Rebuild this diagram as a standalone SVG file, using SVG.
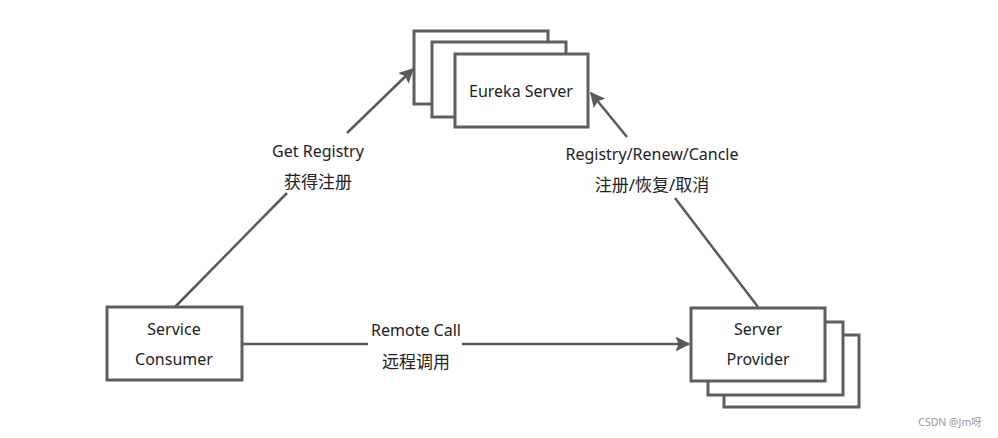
<svg xmlns="http://www.w3.org/2000/svg" width="998" height="438" viewBox="0 0 998 438">
<style>
.box{fill:#fff;stroke:#5f5f5f;stroke-width:3}
.ln{stroke:#5a5a5a;stroke-width:2.5;fill:none}
.t{font-family:"Noto Sans","Noto Sans CJK SC",sans-serif;font-size:16px;fill:#222;text-anchor:middle}
.c{font-size:17px}
.wm{font-family:"Noto Sans","Noto Sans CJK SC",sans-serif;font-size:10.5px;fill:#999;text-anchor:middle}
</style>
<defs>
<marker id="ah" viewBox="0 0 10 10" refX="9" refY="5" markerWidth="6" markerHeight="6" markerUnits="strokeWidth" orient="auto">
<path d="M0,0 L10,5 L0,10 L2,5 Z" fill="#5a5a5a"/>
</marker>
</defs>
<rect width="998" height="438" fill="#fff"/>
<g id="connectors">
<path class="ln" d="M175,307 L287,193"/>
<path class="ln" d="M347,133 L413,69" marker-end="url(#ah)"/>
<path class="ln" d="M758,307 L675,198"/>
<path class="ln" d="M627,137 L591,93" marker-end="url(#ah)"/>
<path class="ln" d="M242,344 L368,344"/>
<path class="ln" d="M462,344 L689,344" marker-end="url(#ah)"/>
<text class="t" x="318" y="157">Get Registry</text>
<text class="t c" x="318" y="188">获得注册</text>
<text class="t" x="652" y="160">Registry/Renew/Cancle</text>
<text class="t c" x="652" y="191">注册/恢复/取消</text>
<text class="t" x="416" y="336">Remote Call</text>
<text class="t c" x="416" y="368">远程调用</text>
</g>
<g id="eureka">
<rect class="box" x="414" y="31" width="134" height="73"/>
<rect class="box" x="432" y="42" width="134" height="75"/>
<rect class="box" x="455" y="54" width="133" height="73"/>
<text class="t" x="521" y="97">Eureka Server</text>
</g>
<g id="consumer">
<rect class="box" x="107" y="307" width="135" height="73"/>
<text class="t" x="174" y="335">Service</text>
<text class="t" x="174" y="365">Consumer</text>
</g>
<g id="provider">
<rect class="box" x="724" y="335" width="135" height="72"/>
<rect class="box" x="708" y="322" width="135" height="73"/>
<rect class="box" x="691" y="308" width="134" height="73"/>
<text class="t" x="758" y="335">Server</text>
<text class="t" x="758" y="365">Provider</text>
</g>
<text class="wm" x="950" y="426">CSDN @Jm呀</text>
</svg>
